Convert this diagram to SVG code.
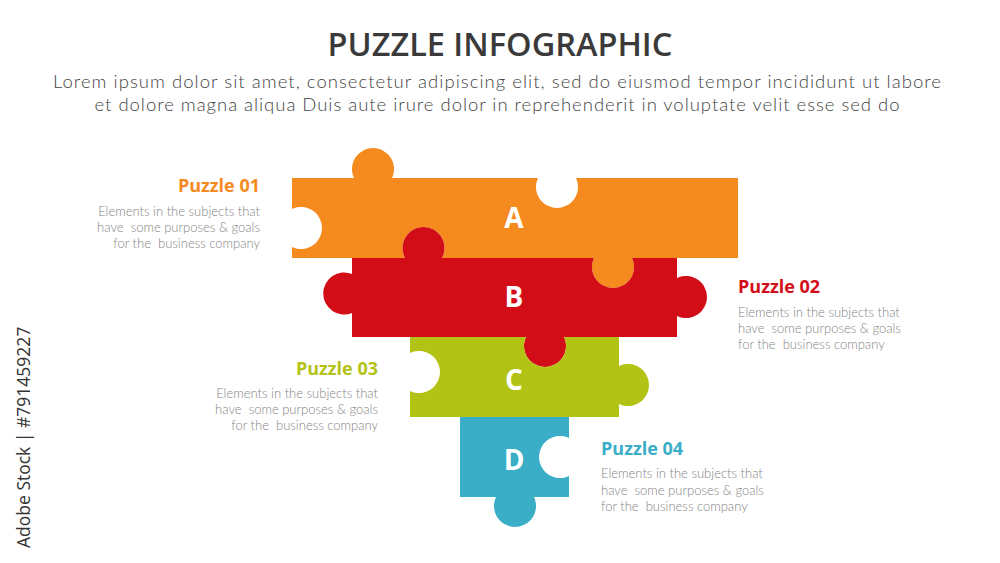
<svg xmlns="http://www.w3.org/2000/svg" width="1000" height="563" viewBox="0 0 1000 563">
<style>
.title{font-family:"Open Sans","Liberation Sans",sans-serif;font-weight:600;font-size:32.5px;fill:#3a3a3a;text-anchor:middle}
.sub{font-family:Lato,"Liberation Sans",sans-serif;font-weight:300;font-size:18.5px;fill:#444;text-anchor:middle}
.letter{font-family:"Open Sans","Liberation Sans",sans-serif;font-weight:700;font-size:28px;fill:#fff;text-anchor:middle}
.head{font-family:"Open Sans","Liberation Sans",sans-serif;font-weight:700;font-size:18px}
.desc{font-family:Lato,"Liberation Sans",sans-serif;font-weight:300;font-size:13px;fill:#858585;white-space:pre}
.r{text-anchor:end}
.mark{font-family:"Open Sans","Liberation Sans",sans-serif;font-size:17.5px;fill:#333}
</style>
<rect width="1000" height="563" fill="#fff"/>
<text class="title" x="500" y="56">PUZZLE INFOGRAPHIC</text>
<text class="sub" x="497" y="88" textLength="888" lengthAdjust="spacing">Lorem ipsum dolor sit amet, consectetur adipiscing elit, sed do eiusmod tempor incididunt ut labore</text>
<text class="sub" x="497" y="111" textLength="805" lengthAdjust="spacing">et dolore magna aliqua Duis aute irure dolor in reprehenderit in voluptate velit esse sed do</text>
<text class="mark" transform="translate(30,548) rotate(-90)">Adobe Stock | #791459227</text>

<g id="pieceA">
<path fill="#f58a1f" d="M292,178 H354 A21,21 0 1 1 392,178 H538 A21,21 0 1 0 576,178 H738 V258 H632 A21,21 0 1 1 594,258 H442 A21,21 0 1 0 405,258 H292 V247 A21,21 0 1 0 292,209 Z"/>
<text class="letter" x="514" y="228">A</text>
</g>
<g id="pieceB">
<path fill="#d30d17" d="M352,258 H405 A21,21 0 1 1 442,258 H594 A21,21 0 1 0 632,258 H677 V278 A21,21 0 1 1 677,316 V337 H564 A21,21 0 1 1 526,337 H352 V313 A21,21 0 1 1 352,274 Z"/>
<text class="letter" x="514" y="307">B</text>
</g>
<g id="pieceC">
<path fill="#b3c315" d="M410,337 H526 A21,21 0 1 0 564,337 H619 V366 A21,21 0 1 1 619,404 V417 H410 V391 A21,21 0 1 0 410,353 Z"/>
<text class="letter" x="514" y="390">C</text>
</g>
<g id="pieceD">
<path fill="#3aaec6" d="M460,417 H569 V438 A21,21 0 1 0 569,476 V497 H534 A21,21 0 1 1 496,497 H460 Z"/>
<text class="letter" x="514" y="470">D</text>
</g>

<g id="label01">
<text class="head r" x="260" y="192" fill="#f58a1f">Puzzle 01</text>
<text class="desc r" x="260" y="216">Elements in the subjects that</text>
<text class="desc r" x="260" y="232">have  some purposes &amp; goals</text>
<text class="desc r" x="260" y="248">for the  business company</text>
</g>
<g id="label02">
<text class="head" x="738" y="293" fill="#d30d17">Puzzle 02</text>
<text class="desc" x="738" y="317">Elements in the subjects that</text>
<text class="desc" x="738" y="333">have  some purposes &amp; goals</text>
<text class="desc" x="738" y="349">for the  business company</text>
</g>
<g id="label03">
<text class="head r" x="378" y="375" fill="#b3c315">Puzzle 03</text>
<text class="desc r" x="378" y="398">Elements in the subjects that</text>
<text class="desc r" x="378" y="414">have  some purposes &amp; goals</text>
<text class="desc r" x="378" y="430">for the  business company</text>
</g>
<g id="label04">
<text class="head" x="601" y="455" fill="#3aaec6">Puzzle 04</text>
<text class="desc" x="601" y="478">Elements in the subjects that</text>
<text class="desc" x="601" y="495">have  some purposes &amp; goals</text>
<text class="desc" x="601" y="511">for the  business company</text>
</g>
<g id="connectors"/>
</svg>
